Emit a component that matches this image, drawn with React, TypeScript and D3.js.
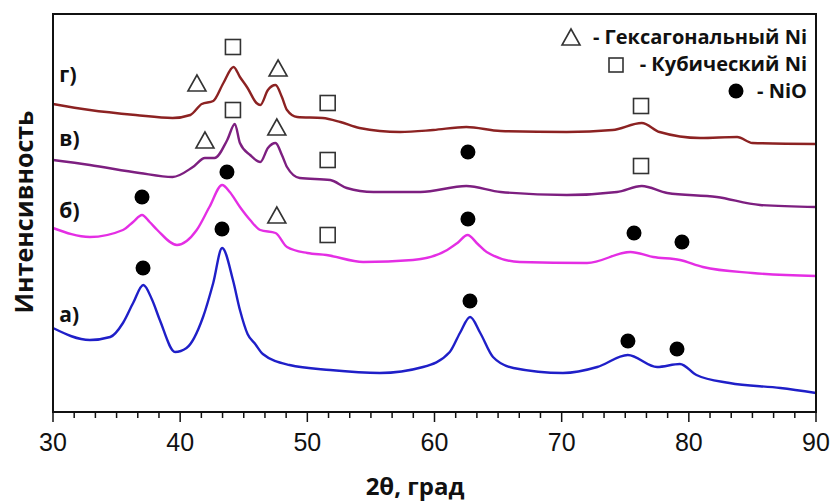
import React from "react";
import * as d3 from "d3";

// ---- data (2θ, intensity in arbitrary units) ----
const curveG: [number, number][] = [
  [30, 308], [32.9, 302], [36.5, 297], [39.4, 294], [40.8, 297], [41.7, 308], [42.6, 311],
  [43.4, 329], [44.2, 345], [44.7, 335], [45.3, 324], [46.0, 309], [46.3, 307], [46.9, 322],
  [47.5, 327], [48.0, 315], [48.4, 302], [49.2, 295], [51.2, 294], [52.6, 290], [54.1, 284],
  [57.3, 280], [59.9, 282], [62.5, 285], [65.2, 281], [70.4, 280], [74.0, 282], [76.3, 289],
  [77.7, 280], [80.9, 274], [83.8, 275], [85.0, 269], [90, 268],
];
const curveV: [number, number][] = [
  [30, 252], [32.9, 247], [36.8, 239], [39.4, 235], [41.0, 245], [41.95, 254], [42.7, 254],
  [43.7, 272], [44.3, 288], [44.7, 269], [45.5, 257], [46.3, 250], [46.9, 264], [47.5, 269],
  [48.0, 257], [48.4, 245], [49.4, 234], [51.8, 232], [53.1, 224], [55.2, 220], [58.9, 220],
  [62.5, 226], [65.2, 220], [70.4, 217], [74.35, 220], [76.3, 226], [78.3, 219], [82.2, 215],
  [85.6, 207], [90, 205],
];
const curveB: [number, number][] = [
  [30, 184], [32.9, 175], [35.5, 182], [36.3, 190], [37.0, 197], [37.6, 190], [38.2, 182],
  [39.75, 167], [41.3, 182], [42.3, 205], [43.3, 227], [43.9, 220], [44.7, 205], [45.5, 192],
  [46.3, 182], [47.5, 179], [48.4, 165], [50.0, 159], [51.5, 157], [54.4, 150], [58.3, 152],
  [61.0, 162], [61.8, 169], [62.6, 177], [63.4, 168], [64.1, 160], [66.7, 150], [72.0, 149],
  [75.4, 160], [77.2, 155], [79.3, 152], [81.1, 145], [85.0, 139], [90, 136],
];
const curveA: [number, number][] = [
  [30, 84], [32.9, 72], [34.5, 75], [35.5, 89], [36.3, 109], [37.1, 127], [37.8, 112],
  [38.4, 92], [39.6, 60], [40.5, 64], [41.8, 95], [42.6, 129], [43.3, 164], [44.15, 132],
  [44.7, 102], [45.3, 78], [45.9, 68], [46.5, 58], [48.6, 47], [51.8, 42], [55.7, 39], [59.1, 45],
  [61.2, 60], [62.0, 79], [62.8, 95], [63.6, 79], [64.6, 55], [66.2, 44], [70.1, 39],
  [72.8, 45], [75.2, 57], [77.5, 45], [79.3, 48], [80.6, 37], [83.2, 29], [87.2, 24], [90, 19],
];

const curveNames = ["г)", "в)", "б)", "а)"];
const curveLabelPos: [number, number][] = [[30.5, 330], [30.5, 266], [30.5, 194], [30.5, 90]];

// markers: [2θ, intensity]
const hexNi: [number, number][] = [
  [41.32, 329], [47.7, 344], [41.95, 272], [47.6, 285], [47.6, 197],
];
const cubNi: [number, number][] = [
  [44.15, 365], [51.6, 309], [76.24, 306], [44.15, 302], [51.6, 252], [76.24, 246], [51.6, 177],
];
const nio: [number, number][] = [
  [62.63, 260], [37.0, 215], [43.68, 240], [62.63, 193], [75.69, 179], [79.46, 170],
  [37.08, 144], [43.29, 183], [62.79, 111], [75.21, 71], [79.07, 63],
];

const xTicks = [30, 40, 50, 60, 70, 80, 90];
const legendItems = ["- Гексагональный Ni", "- Кубический Ni", "- NiO"];

const W = 833, H = 501;
const left = 53, right = 816, top = 14, bottom = 412;

export default function App() {
  const x = d3.scaleLinear().domain([30, 90]).range([left, right]);
  const y = d3.scaleLinear().domain([0, 398]).range([bottom, top]);
  const line = d3
    .line<[number, number]>()
    .x((d) => x(d[0]))
    .y((d) => y(d[1]))
    .curve(d3.curveMonotoneX);

  const curves = [
    { data: curveG, color: "#8c2222" },
    { data: curveV, color: "#7d1f80" },
    { data: curveB, color: "#e42ee4" },
    { data: curveA, color: "#1f1fc8" },
  ];

  const minor = d3.range(0, 37).map((i) => 30 + (i * 10) / 6);

  const tri = (cx: number, cy: number, w = 18, h = 16) =>
    `M${cx},${cy - h / 2}L${cx + w / 2},${cy + h / 2}L${cx - w / 2},${cy + h / 2}Z`;

  const font = "'Open Sans', 'Noto Sans', sans-serif";

  return (
    <svg width={W} height={H} style={{ position: "absolute", left: 0, top: 0, background: "#fff" }}>
      <rect x={0} y={0} width={W} height={H} fill="#fff" />
      {curves.map((c, i) => (
        <path key={i} d={line(c.data) || ""} fill="none" stroke={c.color} strokeWidth={2.4} strokeLinejoin="round" />
      ))}

      {/* frame */}
      <rect x={left} y={top} width={right - left} height={bottom - top} fill="none" stroke="#111" strokeWidth={2} />

      {/* ticks */}
      {minor.map((t, i) => {
        const major = Math.abs(t - Math.round(t / 10) * 10) < 1e-6;
        return (
          <line key={i} x1={x(t)} x2={x(t)} y1={bottom} y2={bottom + (major ? 10 : 6)} stroke="#111" strokeWidth={1.5} />
        );
      })}
      {xTicks.map((t) => (
        <text key={t} x={x(t)} y={451} textAnchor="middle" fontFamily="'Liberation Sans', Arial, sans-serif" fontSize={25} fill="#111">
          {t}
        </text>
      ))}

      {/* axis titles */}
      <text x={415} y={495} textAnchor="middle" fontFamily={font} fontWeight={700} fontSize={24} fill="#111">
        2θ, град
      </text>
      <text
        transform={`translate(33,212) rotate(-90)`}
        textAnchor="middle"
        fontFamily={font}
        fontWeight={700}
        fontSize={25}
        fill="#111"
      >
        Интенсивность
      </text>

      {/* curve labels */}
      {curveNames.map((n, i) => (
        <text key={n} x={x(curveLabelPos[i][0])} y={y(curveLabelPos[i][1])} fontFamily={font} fontWeight={700} fontSize={21} fill="#111">
          {n}
        </text>
      ))}

      {/* markers */}
      {hexNi.map((d, i) => (
        <path key={"h" + i} d={tri(x(d[0]), y(d[1]))} fill="#fff" stroke="#333" strokeWidth={1.6} />
      ))}
      {cubNi.map((d, i) => (
        <rect key={"c" + i} x={x(d[0]) - 7.5} y={y(d[1]) - 7.5} width={15} height={15} fill="#fff" stroke="#333" strokeWidth={1.6} />
      ))}
      {nio.map((d, i) => (
        <circle key={"n" + i} cx={x(d[0])} cy={y(d[1])} r={7.5} fill="#000" />
      ))}

      {/* legend */}
      <path d={tri(571, 37)} fill="#fff" stroke="#333" strokeWidth={1.6} />
      <rect x={609} y={58} width={14} height={14} fill="#fff" stroke="#333" strokeWidth={1.6} />
      <circle cx={736} cy={91} r={7.5} fill="#000" />
      {legendItems.map((t, i) => (
        <text key={t} x={807} y={44 + i * 27} textAnchor="end" fontFamily={font} fontWeight={700} fontSize={20} fill="#111">
          {t}
        </text>
      ))}
    </svg>
  );
}
